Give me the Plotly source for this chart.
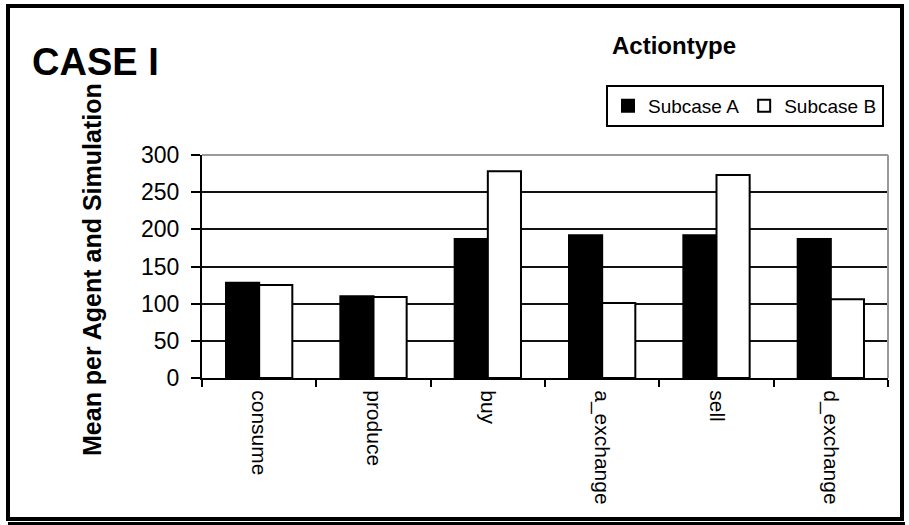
import plotly.graph_objects as go

# Action types and mean counts per agent and simulation
actions = ["consume", "produce", "buy", "a_exchange", "sell", "d_exchange"]
subcase_a = [128, 110, 187, 192, 192, 187]
subcase_b = [125, 109, 278, 101, 273, 106]
y_ticks = [0, 50, 100, 150, 200, 250, 300]

W, H = 909, 525
L, R, T, B = 202, 888, 155, 378  # plot area in pixels


def px(x):
    return (x - L) / (R - L)


def py(y):
    return (B - y) / (B - T)


FONT = "Liberation Sans, Arial, sans-serif"

fig = go.Figure()
fig.add_trace(go.Bar(
    x=actions, y=subcase_a, name="Subcase A",
    marker=dict(color="black", line=dict(color="black", width=2)),
))
fig.add_trace(go.Bar(
    x=actions, y=subcase_b, name="Subcase B",
    marker=dict(color="white", line=dict(color="black", width=2)),
))

fig.update_layout(
    width=W, height=H,
    margin=dict(l=L, r=W - R, t=T, b=H - B, pad=0),
    paper_bgcolor="white", plot_bgcolor="white",
    barmode="group", bargap=0.42, bargroupgap=0,
    font=dict(family=FONT, color="black"),
    showlegend=True,
    legend=dict(
        orientation="h", x=px(606), y=py(85), xanchor="left", yanchor="top",
        bordercolor="black", borderwidth=2, bgcolor="white",
        font=dict(size=19, family=FONT, color="black"),
        itemwidth=30, tracegroupgap=0,
    ),
    xaxis=dict(
        type="category", tickangle=90, tickfont=dict(size=21, family=FONT),
        showline=True, linecolor="black", linewidth=2,
        ticks="outside", tickson="boundaries", ticklen=7, tickwidth=2, tickcolor="black",
        ticklabelstandoff=6,
        showgrid=False, fixedrange=True,
    ),
    yaxis=dict(
        range=[0, 300], tickvals=y_ticks, tickfont=dict(size=23, family=FONT),
        showline=True, linecolor="black", linewidth=2,
        ticks="outside", ticklen=9, tickwidth=2, tickcolor="black",
        ticklabelstandoff=7,
        showgrid=True, gridcolor="#111111", gridwidth=2,
        zeroline=False, fixedrange=True,
    ),
    annotations=[
        dict(text="<b>CASE I</b>", x=px(30), y=py(62), xref="paper", yref="paper",
             xanchor="left", yanchor="middle", showarrow=False,
             font=dict(size=38, family=FONT, color="black")),
        dict(text="<b>Actiontype</b>", x=px(610), y=py(46), xref="paper", yref="paper",
             xanchor="left", yanchor="middle", showarrow=False,
             font=dict(size=24, family=FONT, color="black")),
        dict(text="<b>Mean per Agent and Simulation</b>", x=px(92), y=py(270),
             xref="paper", yref="paper", xanchor="center", yanchor="middle",
             textangle=-90, showarrow=False,
             font=dict(size=25, family=FONT, color="black")),
    ],
    shapes=[
        # grey top and right borders of the plot area
        dict(type="line", xref="paper", yref="paper", x0=0, x1=1, y0=1, y1=1,
             line=dict(color="#9a9a9a", width=2), layer="above"),
        dict(type="line", xref="paper", yref="paper", x0=1, x1=1, y0=0, y1=1,
             line=dict(color="#9a9a9a", width=2), layer="above"),
        # outer frame
        dict(type="rect", xref="paper", yref="paper",
             x0=px(8), x1=px(902), y0=py(519), y1=py(6),
             line=dict(color="black", width=4), layer="above"),
        dict(type="line", xref="paper", yref="paper",
             x0=px(8), x1=px(905), y0=py(523.5), y1=py(523.5),
             line=dict(color="black", width=3), layer="above"),
    ],
)

fig.write_html("out.html")
